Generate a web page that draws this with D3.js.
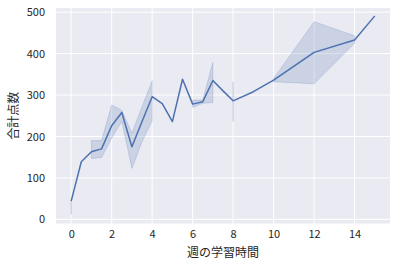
<!DOCTYPE html>
<meta charset="utf-8">
<head>
<title>週の学習時間と合計点数</title>
</head>
<style>
body { margin: 0; background: #fff; }
text { font-family: "Noto Sans CJK JP", "Noto Sans", sans-serif; fill: #262626; }
</style>
<body>
<svg id="chart" width="397" height="268"></svg>
<script src="https://d3js.org/d3.v7.min.js"></script>
<script>
// weekly study hours, mean total score, and the 95% band (null = single sample)
var hours  = [0, 0.5, 1, 1.5, 2, 2.5, 3, 3.5, 4, 4.5, 5, 5.5, 6, 6.5, 7, 7.5, 8, 9, 10, 12, 14, 15];
var score  = [44, 139, 163, 170, 226, 258, 175, 236, 296, 279, 236, 338, 278, 284, 335, 310, 286, 308, 336, 403, 433, 491];
var ciLow  = [12, null, 147, 149, 196, 236, 123, 187, 238, null, null, null, 270, 280, 282, null, 236, null, 332, 327, 425, null];
var ciHigh = [45, null, 190, 190, 276, 263, 208, 272, 334, null, null, null, 288, 288, 379, null, 332, null, 340, 477, 443, null];
var xTicks = [0, 2, 4, 6, 8, 10, 12, 14];
var yTicks = [0, 100, 200, 300, 400, 500];

var svg = d3.select('#chart');
// note: "top" clashes with window.top, so use plot* names
var plotL = 56, plotR = 390, plotT = 8, plotB = 223.5;

var x = d3.scaleLinear().domain([-0.75, 15.75]).range([plotL, plotR]);
var y = d3.scaleLinear().domain([-10, 510]).range([plotB, plotT]);

var data = hours.map(function(h, i) {
  return {h: h, s: score[i], lo: ciLow[i], hi: ciHigh[i]};
});

// background + grid
svg.append('rect')
  .attr('x', plotL).attr('y', plotT)
  .attr('width', plotR - plotL).attr('height', plotB - plotT)
  .attr('fill', '#eaeaf2');

var g = svg.append('g');
g.selectAll('.vgrid').data(xTicks).enter().append('line')
  .attr('x1', d => x(d)).attr('x2', d => x(d))
  .attr('y1', plotT).attr('y2', plotB)
  .attr('stroke', '#fff').attr('stroke-width', 1);
g.selectAll('.hgrid').data(yTicks).enter().append('line')
  .attr('y1', d => y(d)).attr('y2', d => y(d))
  .attr('x1', plotL).attr('x2', plotR)
  .attr('stroke', '#fff').attr('stroke-width', 1);

// confidence band
var area = d3.area()
  .defined(d => d.lo !== null)
  .x(d => x(d.h))
  .y0(d => y(d.lo))
  .y1(d => y(d.hi));
g.append('path').datum(data)
  .attr('d', area)
  .attr('fill', '#4c72b0').attr('fill-opacity', 0.2)
  .attr('stroke', '#4c72b0').attr('stroke-opacity', 0.2).attr('stroke-width', 1);

// mean line
var line = d3.line().x(d => x(d.h)).y(d => y(d.s));
g.append('path').datum(data)
  .attr('d', line)
  .attr('fill', 'none')
  .attr('stroke', '#4c72b0').attr('stroke-width', 1.5)
  .attr('stroke-linejoin', 'round');

// axes (no lines, just labels like seaborn darkgrid)
var xAxis = svg.append('g')
  .attr('transform', 'translate(0,' + plotB + ')')
  .call(d3.axisBottom(x).tickValues(xTicks).tickSize(0).tickPadding(7));
var yAxis = svg.append('g')
  .attr('transform', 'translate(' + plotL + ',0)')
  .call(d3.axisLeft(y).tickValues(yTicks).tickSize(0).tickPadding(11));
[xAxis, yAxis].forEach(function(a) {
  a.select('.domain').remove();
  a.selectAll('text').attr('font-size', 11).style('fill', '#262626')
    .attr('font-family', '"Noto Sans CJK JP", sans-serif');
});

svg.append('text')
  .attr('x', (plotL + plotR) / 2).attr('y', 257)
  .attr('text-anchor', 'middle').attr('font-size', 12)
  .text('週の学習時間');
svg.append('text')
  .attr('transform', 'translate(18,' + (plotT + plotB) / 2 + ') rotate(-90)')
  .attr('text-anchor', 'middle').attr('font-size', 12)
  .text('合計点数');
</script>
</body>
